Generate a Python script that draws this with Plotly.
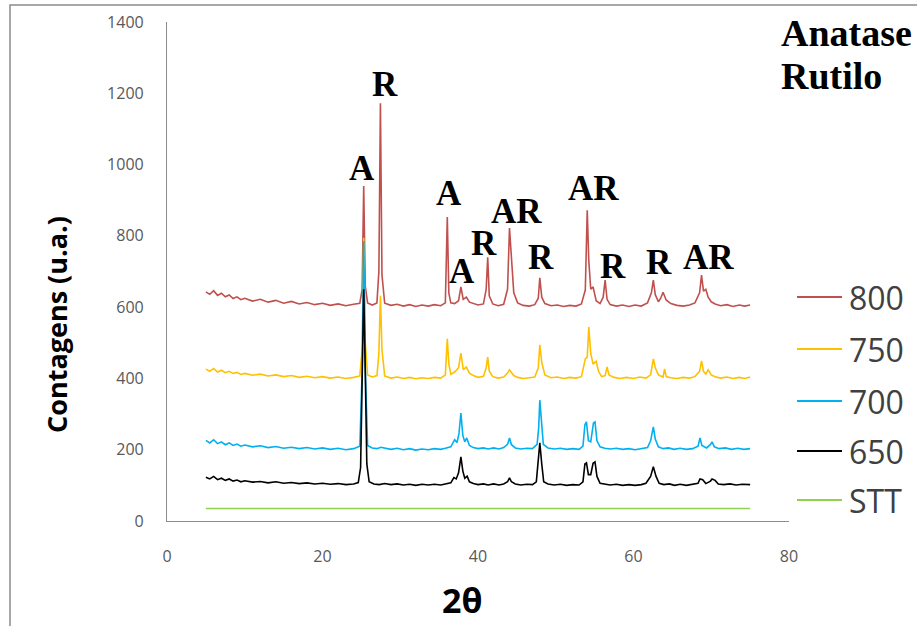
import plotly.graph_objects as go

# ---- data ----
series_names = ["800", "750", "700", "650", "STT"]
series_colors = ["#C0504D", "#FFC000", "#00B0F0", "#000000", "#92D050"]

pts_800 = [(5,643),(5.5,636),(6,646),(6.5,633),(7,639),(7.5,629),(8,634),(8.5,624),(9,629),(9.5,621),(10,625),
           (11,617),(12,622),(13,614),(14,619),(15,611),(16,616),(17,609),(18,613),(19,607),(20,611),(21,605),
           (22,609),(23,604),(24,608),(24.8,611),(25.1,650),(25.3,940),(25.5,660),(25.8,612),(26.4,606),(27.0,612),
           (27.25,700),(27.45,1172),(27.65,690),(28.0,611),(28.8,605),(29.6,608),(30.4,603),(31.2,607),(32.0,602),
           (32.8,606),(33.6,603),(34.4,607),(35.2,604),(35.8,612),(36.05,853),(36.25,640),(36.5,612),(37.0,610),
           (37.5,618),(37.8,657),(38.1,622),(38.5,628),(38.9,614),(39.4,610),(40.0,606),(40.7,609),(41.05,650),
           (41.25,740),(41.45,632),(41.9,609),(42.6,604),(43.3,608),(43.8,650),(44.05,822),(44.25,760),(44.6,640),
           (45.1,612),(45.8,605),(46.6,603),(47.3,607),(47.75,625),(47.95,682),(48.2,628),(48.6,610),(49.4,604),
           (50.2,606),(51.0,602),(51.8,605),(52.6,603),(53.3,609),(53.8,648),(54.05,872),(54.25,730),(54.5,650),
           (54.8,657),(55.2,618),(55.7,610),(56.1,628),(56.35,676),(56.6,622),(57.0,607),(57.8,603),(58.6,606),
           (59.4,602),(60.2,606),(61.0,603),(61.8,612),(62.3,640),(62.55,676),(62.8,635),(63.2,615),(63.5,625),
           (63.8,642),(64.2,620),(64.8,610),(65.6,605),(66.4,603),(67.2,606),(67.9,612),(68.5,640),(68.75,690),
           (69.0,645),(69.3,650),(69.6,628),(70.0,615),(70.5,609),(71.2,604),(72.0,607),(72.8,602),(73.6,606),
           (74.3,603),(75.0,606)]

pts_750 = [(5,426),(5.5,420),(6,428),(6.5,418),(7,423),(7.5,416),(8,420),(8.5,414),(9,417),(9.5,411),(10,414),
           (11,409),(12,412),(13,407),(14,410),(15,405),(16,408),(17,403),(18,406),(19,402),(20,405),(21,401),
           (22,404),(23,400),(24,403),(24.8,407),(25.1,480),(25.3,795),(25.5,500),(25.8,410),(26.4,404),(27.0,408),
           (27.25,470),(27.45,632),(27.65,480),(28.0,407),(28.8,401),(29.6,404),(30.4,400),(31.2,403),(32.0,399),
           (32.8,402),(33.6,400),(34.4,403),(35.2,401),(35.8,410),(36.05,511),(36.25,440),(36.5,412),(37.0,418),
           (37.5,430),(37.8,471),(38.1,425),(38.5,432),(38.9,415),(39.4,408),(40.0,403),(40.7,406),(41.05,430),
           (41.25,460),(41.45,420),(41.9,405),(42.6,401),(43.3,404),(43.8,415),(44.05,424),(44.25,418),(44.6,408),
           (45.1,403),(45.8,400),(46.6,402),(47.3,404),(47.75,430),(47.95,494),(48.2,445),(48.6,410),(49.4,402),
           (50.2,404),(51.0,400),(51.8,403),(52.6,401),(53.3,405),(53.8,455),(54.05,460),(54.25,544),(54.5,470),
           (54.8,440),(55.2,448),(55.5,420),(55.9,405),(56.35,408),(56.6,432),(56.85,410),(57.5,403),(58.3,400),
           (59.1,403),(60.0,400),(60.8,404),(61.6,401),(62.2,410),(62.55,455),(62.8,430),(63.2,410),(63.8,404),
           (64.0,427),(64.2,405),(64.8,402),(65.6,400),(66.4,403),(67.2,401),(67.9,405),(68.5,420),(68.75,449),
           (69.0,420),(69.3,412),(69.6,424),(70.0,410),(70.5,405),(71.2,401),(72.0,404),(72.8,400),(73.6,403),
           (74.3,400),(75.0,404)]

pts_700 = [(5,226),(5.5,219),(6,228),(6.5,217),(7,222),(7.5,214),(8,219),(8.5,212),(9,216),(9.5,210),(10,213),
           (11,208),(12,211),(13,206),(14,209),(15,204),(16,207),(17,203),(18,206),(19,202),(20,205),(21,201),
           (22,204),(23,200),(24,203),(24.8,210),(25.1,420),(25.3,785),(25.5,430),(25.8,212),(26.4,205),(27.0,203),
           (27.5,207),(28.0,204),(28.8,201),(29.6,204),(30.4,200),(31.2,203),(32.0,199),(32.8,202),(33.6,200),
           (34.4,203),(35.2,201),(35.8,204),(36.5,208),(37.0,228),(37.3,220),(37.55,245),(37.8,303),(38.05,240),
           (38.3,222),(38.55,233),(38.9,212),(39.4,206),(40.0,203),(40.7,205),(41.3,202),(42.0,205),(42.7,202),
           (43.3,206),(43.8,215),(44.05,233),(44.3,214),(44.8,205),(45.5,202),(46.3,204),(47.0,203),(47.6,215),
           (47.8,260),(47.95,339),(48.15,270),(48.4,215),(49.0,205),(49.8,202),(50.6,204),(51.4,201),(52.2,203),
           (53.0,201),(53.5,210),(53.75,270),(53.95,278),(54.2,225),(54.5,222),(54.85,275),(55.05,278),(55.3,225),
           (55.7,208),(56.3,204),(57.0,202),(57.8,204),(58.6,201),(59.4,203),(60.2,200),(61.0,203),(61.8,206),
           (62.2,225),(62.55,264),(62.8,230),(63.2,208),(63.8,203),(64.5,205),(65.2,201),(66.0,204),(66.8,201),
           (67.6,203),(68.3,210),(68.55,233),(68.8,212),(69.4,205),(69.9,215),(70.1,222),(70.4,208),(71.0,203),
           (71.8,205),(72.6,201),(73.4,204),(74.2,201),(75.0,203)]

pts_650 = [(5,123),(5.5,118),(6,125),(6.5,116),(7,120),(7.5,114),(8,118),(8.5,112),(9,115),(9.5,110),(10,113),
           (11,109),(12,111),(13,107),(14,110),(15,106),(16,108),(17,105),(18,107),(19,104),(20,106),(21,103),
           (22,105),(23,102),(24,104),(24.6,108),(24.9,150),(25.1,400),(25.3,650),(25.5,420),(25.7,160),(26.0,110),
           (26.6,104),(27.3,102),(28.0,105),(28.8,102),(29.6,104),(30.4,101),(31.2,103),(32.0,100),(32.8,103),
           (33.6,101),(34.4,103),(35.2,101),(35.8,104),(36.5,107),(36.9,122),(37.2,118),(37.5,135),(37.8,180),
           (38.05,140),(38.3,120),(38.6,126),(38.9,110),(39.4,105),(40.0,102),(40.7,104),(41.3,101),(42.0,104),
           (42.7,101),(43.3,104),(43.8,110),(44.05,121),(44.3,110),(44.8,104),(45.5,101),(46.3,103),(47.0,102),
           (47.5,110),(47.75,160),(47.95,219),(48.2,160),(48.45,110),(49.0,104),(49.8,101),(50.6,103),(51.4,100),
           (52.2,102),(53.0,101),(53.5,110),(53.75,160),(53.95,163),(54.2,130),(54.5,130),(54.8,162),(55.05,166),
           (55.3,125),(55.7,106),(56.3,103),(57.0,101),(57.8,103),(58.6,100),(59.4,102),(60.2,100),(61.0,102),
           (61.6,106),(62.2,125),(62.55,152),(62.9,125),(63.3,106),(63.9,102),(64.6,104),(65.3,100),(66.0,103),
           (66.8,100),(67.6,103),(68.3,106),(68.55,118),(68.9,116),(69.3,105),(69.9,112),(70.1,118),(70.5,114),
           (70.9,104),(71.6,102),(72.4,104),(73.2,101),(74.0,103),(75.0,102)]

pts_stt = [(5,35),(20,35),(40,35),(60,35),(75,35)]

peak_labels = ["A", "R", "A", "A", "R", "AR", "R", "AR", "R", "R", "AR"]
label_x = [25.1, 28.0, 36.3, 37.9, 40.8, 45.0, 48.1, 54.9, 57.4, 63.3, 69.6]
label_y = [990, 1226, 920, 700, 778, 868, 738, 934, 715, 724, 738]

phase_names = ["Anatase", "Rutilo"]

x_ticks = [0, 20, 40, 60, 80]
y_ticks = [0, 200, 400, 600, 800, 1000, 1200, 1400]

# ---- figure ----
W, H = 917, 626
ML, MR, MT, MB = 167, 128, 22, 105
PW, PH = W - ML - MR, H - MT - MB


def px_x(px):
    return (px - ML) / PW


def px_y(py):
    return (H - MB - py) / PH


fig = go.Figure()
all_pts = [pts_800, pts_750, pts_700, pts_650, pts_stt]
for name, color, pts in zip(series_names, series_colors, all_pts):
    fig.add_trace(go.Scatter(
        x=[p[0] for p in pts], y=[p[1] for p in pts], mode="lines", name=name,
        line=dict(color=color, width=1.6), showlegend=False))

annotations = []
for t, lx, ly in zip(peak_labels, label_x, label_y):
    annotations.append(dict(x=lx, y=ly, xref="x", yref="y", text="<b>%s</b>" % t, showarrow=False,
                            font=dict(family="Liberation Serif", size=35, color="#000000"),
                            xanchor="center", yanchor="middle"))

for i, nm in enumerate(phase_names):
    annotations.append(dict(x=px_x(779), y=px_y([33, 76][i]), xref="paper", yref="paper",
                            text="<b>%s</b>" % nm, showarrow=False,
                            font=dict(family="Liberation Serif", size=38, color="#000000"),
                            xanchor="left", yanchor="middle"))

# manual legend
shapes = []
leg_y = [297, 349, 401, 451, 500]
for name, color, ly in zip(series_names, series_colors, leg_y):
    shapes.append(dict(type="line", xref="paper", yref="paper", x0=px_x(797), x1=px_x(842),
                       y0=px_y(ly), y1=px_y(ly), line=dict(color=color, width=2)))
    annotations.append(dict(x=px_x(847), y=px_y(ly), xref="paper", yref="paper", text=name,
                            showarrow=False, xanchor="left", yanchor="middle",
                            font=dict(family="Open Sans", size=32, color="#404040")))

# axis titles
annotations.append(dict(x=px_x(56), y=px_y(325), xref="paper", yref="paper",
                        text="<b>Contagens (u.a.)</b>", textangle=-90, showarrow=False,
                        xanchor="center", yanchor="middle",
                        font=dict(family="Open Sans", size=27, color="#000000")))
annotations.append(dict(x=px_x(462), y=px_y(600), xref="paper", yref="paper",
                        text="<b>2θ</b>", showarrow=False, xanchor="center", yanchor="middle",
                        font=dict(family="Open Sans", size=34, color="#000000")))

# outer chart border
shapes.append(dict(type="rect", xref="paper", yref="paper", x0=px_x(10), x1=px_x(940),
                   y0=px_y(650), y1=px_y(5), line=dict(color="#8c8c8c", width=1.5), layer="below"))

fig.update_layout(
    width=W, height=H,
    margin=dict(l=ML, r=MR, t=MT, b=MB),
    paper_bgcolor="white", plot_bgcolor="white",
    showlegend=False,
    annotations=annotations, shapes=shapes,
    xaxis=dict(range=[0, 80], tickvals=x_ticks, showgrid=False, zeroline=False,
               showline=True, linecolor="#8c8c8c", linewidth=1.2, ticks="",
               ticklabelstandoff=21,
               tickfont=dict(family="Open Sans", size=16, color="#595959")),
    yaxis=dict(range=[0, 1400], tickvals=y_ticks, showgrid=False, zeroline=False,
               showline=True, linecolor="#8c8c8c", linewidth=1.2, ticks="",
               ticklabelstandoff=19,
               tickfont=dict(family="Open Sans", size=16, color="#595959")),
)

fig.write_html("out.html", config={"displayModeBar": False},
               post_script="document.body.style.margin='0';document.body.style.padding='0';")
